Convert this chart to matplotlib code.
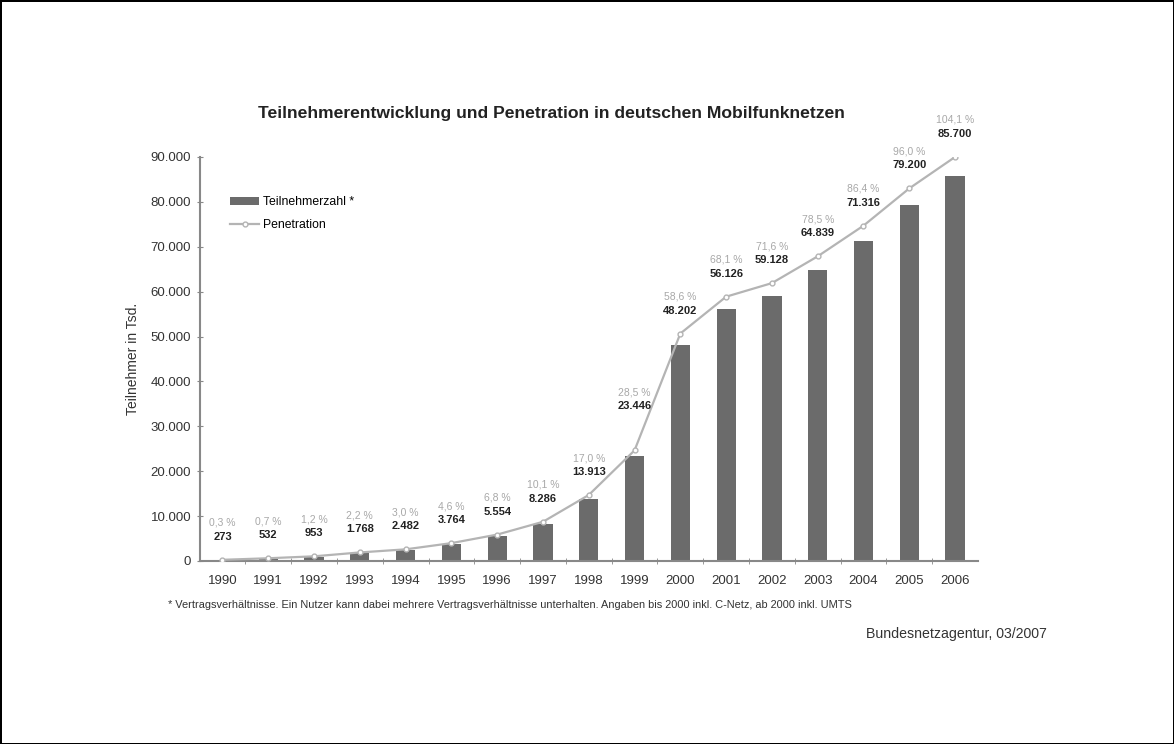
import numpy as np
import matplotlib
matplotlib.use("Agg")
import matplotlib.pyplot as plt
from matplotlib.ticker import FixedLocator

# Daten (Bundesnetzagentur, Teilnehmer in Tsd.)
jahre = ["1990", "1991", "1992", "1993", "1994", "1995", "1996", "1997", "1998",
         "1999", "2000", "2001", "2002", "2003", "2004", "2005", "2006"]
teilnehmer = [273, 532, 953, 1768, 2482, 3764, 5554, 8286, 13913,
              23446, 48202, 56126, 59128, 64839, 71316, 79200, 85700]
penetration = [0.3, 0.7, 1.2, 2.2, 3.0, 4.6, 6.8, 10.1, 17.0,
               28.5, 58.6, 68.1, 71.6, 78.5, 86.4, 96.0, 104.1]
y_ticks = [0, 10000, 20000, 30000, 40000, 50000, 60000, 70000, 80000, 90000]


def de_zahl(v):
    return f"{v:,.0f}".replace(",", ".")


def de_proz(p):
    return f"{p:.1f} %".replace(".", ",")


plt.rcParams['font.family'] = ['Liberation Sans', 'DejaVu Sans']

fig = plt.figure(figsize=(11.74, 7.44), dpi=100)
fig.patch.set_edgecolor("black")
fig.patch.set_linewidth(2)

ax = fig.add_axes([0.170, 0.246, 0.663, 0.543])
x = np.arange(len(jahre))

bar_col = "#6b6b6b"
line_col = "#b4b4b4"
axis_col = "#888888"
txt_col = "#333333"

bars = ax.bar(x, teilnehmer, width=0.42, color=bar_col, label="Teilnehmerzahl *", zorder=2)
ax.set_xlim(-0.5, len(jahre) - 0.5)
ax.set_ylim(0, 90000)
ax.set_yticks(y_ticks)
ax.set_yticklabels([de_zahl(t) for t in y_ticks], fontsize=9.5, color=txt_col)
ax.set_xticks(x)
ax.set_xticklabels(jahre, fontsize=9.5, color=txt_col)
ax.xaxis.set_minor_locator(FixedLocator(x[:-1] + 0.5))
ax.tick_params(axis="x", which="major", length=0, pad=10)
ax.tick_params(axis="x", which="minor", length=4, color=axis_col, direction="inout")
ax.tick_params(axis="y", length=4, color=axis_col, direction="inout", pad=4)
for s in ["top", "right"]:
    ax.spines[s].set_visible(False)
for s in ["left", "bottom"]:
    ax.spines[s].set_color(axis_col)
    ax.spines[s].set_linewidth(1.5)
ax.set_ylabel("Teilnehmer in Tsd.", fontsize=10, color=txt_col, labelpad=8)

# Penetration auf verdeckter Zweitachse
ax2 = ax.twinx()
ax2.set_ylim(0, 104.1)
ax2.axis("off")
line, = ax2.plot(x, penetration, color=line_col, lw=1.6, marker="o", ms=3.5,
                 mfc="white", mec=line_col, mew=1, label="Penetration", zorder=3)

for i in range(len(jahre)):
    up = 44 if jahre[i] == "1999" else 23
    ax2.annotate(de_zahl(teilnehmer[i]), (x[i], penetration[i]), xytext=(0, up),
                 textcoords="offset pixels", ha="center", va="center",
                 fontsize=8, fontweight="bold", color="#222222")
    ax2.annotate(de_proz(penetration[i]), (x[i], penetration[i]), xytext=(0, up + 14),
                 textcoords="offset pixels", ha="center", va="center",
                 fontsize=7.5, color="#a8a8a8")

ax.legend([bars, line], ["Teilnehmerzahl *", "Penetration"], loc="upper left",
          bbox_to_anchor=(0.025, 0.93), frameon=False, fontsize=8.8, handlelength=2.4,
          labelspacing=0.9, handletextpad=0.3)

fig.text(0.47, 0.848, "Teilnehmerentwicklung und Penetration in deutschen Mobilfunknetzen",
         ha="center", va="center", fontsize=12.6, fontweight="bold", color="#222222")
fig.text(0.143, 0.187,
         "* Vertragsverhältnisse. Ein Nutzer kann dabei mehrere Vertragsverhältnisse unterhalten. "
         "Angaben bis 2000 inkl. C-Netz, ab 2000 inkl. UMTS",
         ha="left", va="center", fontsize=7.9, color=txt_col)
fig.text(0.892, 0.148, "Bundesnetzagentur, 03/2007", ha="right", va="center",
         fontsize=10.2, color=txt_col)

fig.savefig("out.png", dpi=100)
